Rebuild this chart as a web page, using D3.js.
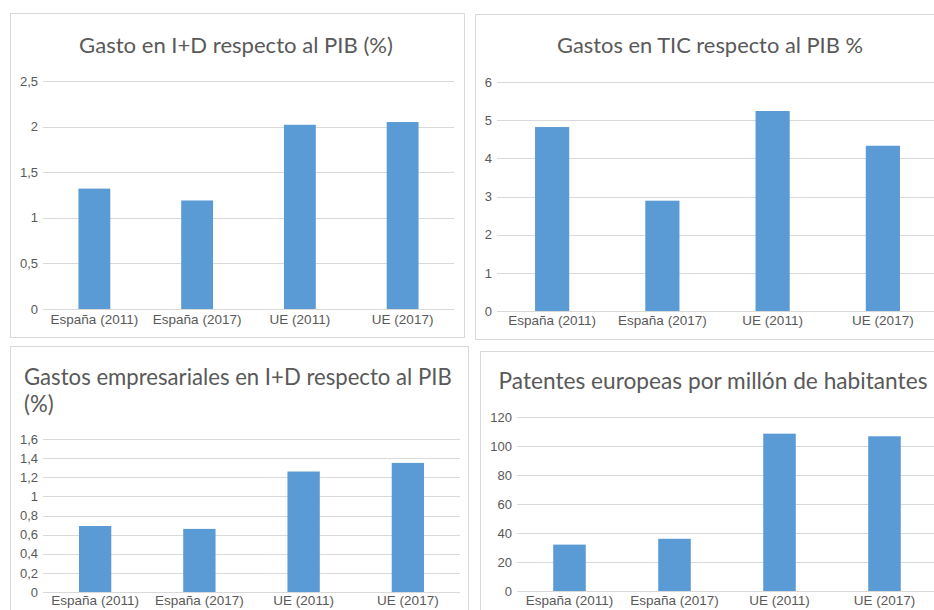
<!DOCTYPE html>
<html>
<head>
<meta charset="utf-8">
<script src="https://cdn.jsdelivr.net/npm/d3@7"></script>
<style>
  body { margin: 0; background: #fff; }
  svg { display: block; font-family: Lato, "Open Sans", sans-serif; }
</style>
</head>
<body>
<svg width="934" height="610"></svg>
<script>
"use strict";
var categories = ["España (2011)", "España (2017)", "UE (2011)", "UE (2017)"];

var gastoID = [1.32, 1.19, 2.02, 2.05];
var gastoTIC = [4.82, 2.89, 5.24, 4.33];
var gastoEmpresarialID = [0.69, 0.66, 1.26, 1.35];
var patentes = [32, 36, 108.5, 106.7];

var ticksID = [0, 0.5, 1, 1.5, 2, 2.5];
var ticksTIC = [0, 1, 2, 3, 4, 5, 6];
var ticksEmpresarial = [0, 0.2, 0.4, 0.6, 0.8, 1, 1.2, 1.4, 1.6];
var ticksPatentes = [0, 20, 40, 60, 80, 100, 120];

var titleID = ["Gasto en I+D respecto al PIB (%)"];
var titleTIC = ["Gastos en TIC respecto al PIB %"];
var titleEmpresarial = ["Gastos empresariales en I+D respecto al PIB", "(%)"];
var titlePatentes = ["Patentes europeas por millón de habitantes"];

var BAR = "#5b9bd5", GRID = "#d9d9d9", TEXT = "#595959";

// layout of the four boxes (pixels)
var panels = [
    { values: gastoID, ticks: ticksID, title: titleID,
      box: [10, 13, 454, 324], plot: [43, 454, 81, 309],
      titleX: 236, titleY: 53, titleAnchor: "middle", titleW: 314, labelY: 327 },
    { values: gastoTIC, ticks: ticksTIC, title: titleTIC,
      box: [475, 14, 470, 325], plot: [497, 938, 82, 311],
      titleX: 710, titleY: 53, titleAnchor: "middle", titleW: 306, labelY: 328 },
    { values: gastoEmpresarialID, ticks: ticksEmpresarial, title: titleEmpresarial,
      box: [10, 346, 458, 280], plot: [43, 460, 439, 592],
      titleX: 24, titleY: 385, titleAnchor: "start", titleW: 428, labelY: 608 },
    { values: patentes, ticks: ticksPatentes, title: titlePatentes,
      box: [480, 351, 470, 275], plot: [517, 937, 417, 591],
      titleX: 713, titleY: 389, titleAnchor: "middle", titleW: 429, labelY: 608 }
];

var svg = d3.select("svg");
var fmt = function (d) { return String(d).replace(".", ","); };

panels.forEach(function (p) {
    var g = svg.append("g");

    g.append("rect")
        .attr("x", p.box[0] + 0.5).attr("y", p.box[1] + 0.5)
        .attr("width", p.box[2]).attr("height", p.box[3])
        .attr("fill", "#fff").attr("stroke", GRID);

    var x = d3.scaleBand()
        .domain(categories)
        .range([p.plot[0], p.plot[1]])
        .paddingInner(0.69)
        .paddingOuter(0.345);
    var y = d3.scaleLinear()
        .domain([0, d3.max(p.ticks)])
        .range([p.plot[3], p.plot[2]]);

    // GRID
    g.selectAll("line.grid")
        .data(p.ticks)
        .enter().append("line")
        .attr("class", "grid")
        .attr("x1", p.plot[0]).attr("x2", p.plot[1])
        .attr("y1", function (d) { return Math.round(y(d)) + 0.5; })
        .attr("y2", function (d) { return Math.round(y(d)) + 0.5; })
        .attr("stroke", GRID);

    // BARS
    g.selectAll("rect.bar")
        .data(p.values)
        .enter().append("rect")
        .attr("class", "bar")
        .attr("x", function (d, i) { return x(categories[i]); })
        .attr("width", x.bandwidth())
        .attr("y", function (d) { return y(d); })
        .attr("height", function (d) { return y(0) - y(d); })
        .attr("fill", BAR);

    // Y AXIS
    var yAxis = g.append("g")
        .attr("transform", "translate(" + p.plot[0] + ",0)")
        .call(d3.axisLeft(y).tickValues(p.ticks).tickFormat(fmt).tickSize(0).tickPadding(5));
    yAxis.select(".domain").remove();
    yAxis.selectAll("text").attr("fill", TEXT).style("font-size", "13px");

    // X AXIS
    var xAxis = g.append("g")
        .attr("transform", "translate(0," + (p.labelY - 13) + ")")
        .call(d3.axisBottom(x).tickSize(0).tickPadding(0));
    xAxis.select(".domain").remove();
    xAxis.selectAll("text").attr("fill", TEXT).style("font-size", "13.5px");

    // TITLE
    var t = g.append("text")
        .attr("x", p.titleX).attr("y", p.titleY)
        .attr("text-anchor", p.titleAnchor)
        .attr("fill", TEXT)
        .style("font-size", "20px");
    t.selectAll("tspan")
        .data(p.title)
        .enter().append("tspan")
        .attr("x", p.titleX)
        .attr("dy", function (d, i) { return i === 0 ? 0 : 27; })
        .text(function (d) { return d; });
    var w = t.select("tspan").node().getComputedTextLength();
    t.style("font-size", (20 * p.titleW / w).toFixed(2) + "px");
});
</script>
</body>
</html>
